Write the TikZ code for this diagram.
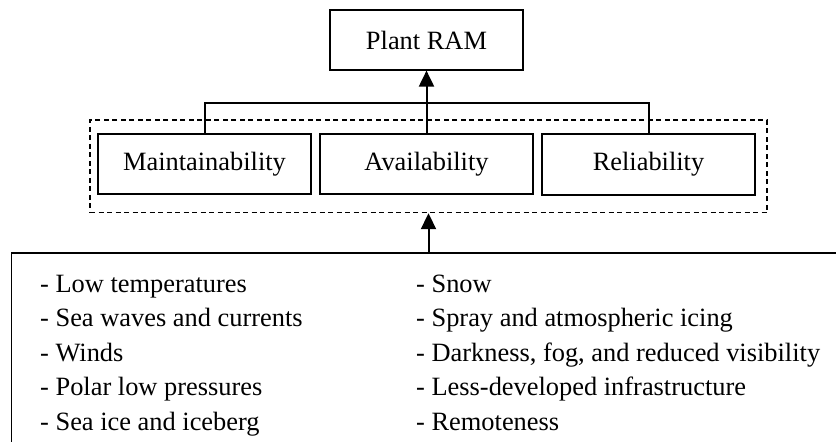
\documentclass[tikz,border=0pt]{standalone}
\usepackage{fontspec}
\setmainfont{Liberation Serif}
\usetikzlibrary{arrows.meta}
\begin{document}
\begin{tikzpicture}[x=1pt,y=-1pt,
  box/.style={draw, line width=1.2pt, inner sep=0pt, font=\fontsize{26.4}{30}\selectfont},
  grp/.style={draw, line width=1.1pt, dash pattern=on 5pt off 3.5pt, inner sep=0pt},
  conn/.style={line width=2pt},
  arr/.style={line width=2pt, -{Triangle[length=16pt,width=15pt]}},
  item/.style={anchor=base west, inner sep=0pt, font=\fontsize{26.4}{30}\selectfont}]
\useasboundingbox (0,0) rectangle (836,442);
\clip (0,0) rectangle (836,442);
\node[box, minimum width=193pt, minimum height=60pt] (ram) at (426.5,40) {Plant RAM};
\node[grp, minimum width=677pt, minimum height=92.7pt] (grp) at (428.5,166.3) {};
\node[box, minimum width=213pt, minimum height=60pt] (maint) at (204.5,164) {Maintainability};
\node[box, minimum width=213pt, minimum height=60pt] (avail) at (426.5,164) {Availability};
\node[box, minimum width=213pt, minimum height=61pt] (rel) at (648.5,164.5) {Reliability};
\node[draw, line width=1.2pt, inner sep=0pt, minimum width=888.5pt, minimum height=247pt] (env) at (455.75,376.5) {};
\coordinate (hub) at (426.5,102.5);
\draw[conn] (maint.north) |- (hub) -| (rel.north);
\draw[arr] (avail.north) -- (ram.south);
\draw[arr] (grp.south |- env.north) -- (grp.south);
\node[item] (l1) at (40,292) {- Low temperatures};
\node[item] (l2) at (40,326.5) {- Sea waves and currents};
\node[item] (l3) at (40,361) {- Winds};
\node[item] (l4) at (40,395.5) {- Polar low pressures};
\node[item] (l5) at (40,430) {- Sea ice and iceberg};
\node[item] (r1) at (416,292) {- Snow};
\node[item] (r2) at (416,326.5) {- Spray and atmospheric icing};
\node[item] (r3) at (416,361) {- Darkness, fog, and reduced visibility};
\node[item] (r4) at (416,395.5) {- Less-developed infrastructure};
\node[item] (r5) at (416,430) {- Remoteness};
\end{tikzpicture}
\end{document}
